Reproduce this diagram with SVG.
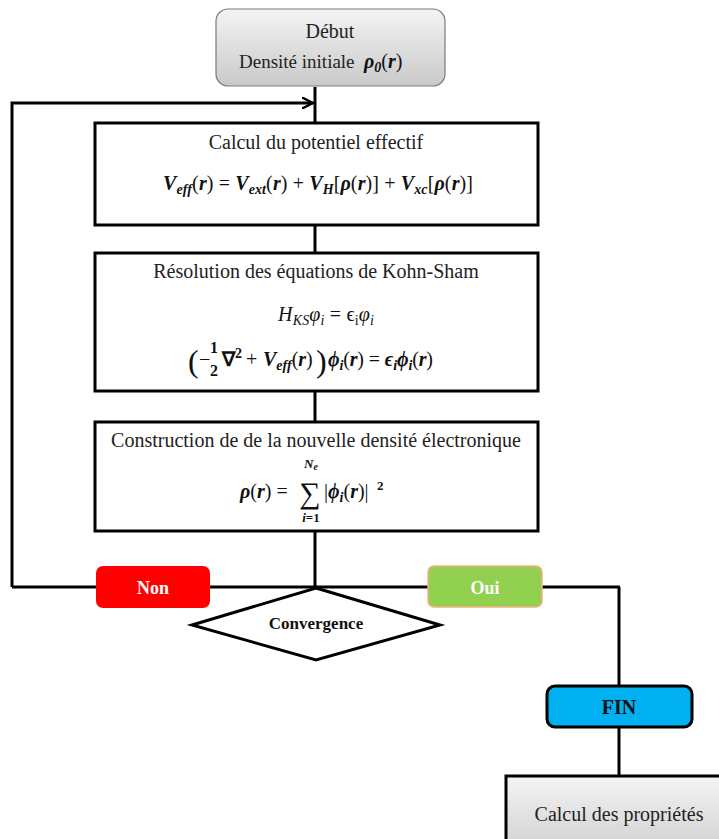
<svg xmlns="http://www.w3.org/2000/svg" width="719" height="839" viewBox="0 0 719 839">
<defs>
<linearGradient id="gray" x1="0" y1="0" x2="0" y2="1">
<stop offset="0" stop-color="#f4f4f4"/>
<stop offset="1" stop-color="#c9c9c9"/>
</linearGradient>
<marker id="arr" viewBox="0 0 12 12" refX="11" refY="6" markerWidth="12" markerHeight="12" markerUnits="userSpaceOnUse" orient="auto">
<path d="M1,1 L11,6 L1,11" fill="none" stroke="#000" stroke-width="2.5" stroke-linecap="round" stroke-linejoin="round"/>
</marker>
<style>
.t{font-family:"Liberation Serif","Times New Roman",serif;font-size:20px;fill:#222;}
.m{font-family:"Liberation Serif","Times New Roman",serif;font-size:20px;font-style:italic;fill:#111;}
.mb{font-family:"Liberation Serif","Times New Roman",serif;font-size:20px;font-style:italic;font-weight:bold;fill:#111;}
.up{font-style:normal;}
.n{font-style:normal;font-weight:normal;}
.s{font-size:14px;}
.box{fill:#fff;stroke:#000;stroke-width:3;}
.ln{fill:none;stroke:#000;stroke-width:3;}
.lab{font-family:"Liberation Serif","Times New Roman",serif;font-size:18px;font-weight:bold;text-anchor:middle;}
</style>
</defs>
<g id="connectors">
<line class="ln" x1="315" y1="87" x2="315" y2="123"/>
<polyline class="ln" points="315,531 315,587"/>
<line class="ln" x1="315" y1="225" x2="315" y2="253"/>
<line class="ln" x1="315" y1="391" x2="315" y2="422"/>
<polyline class="ln" points="12,587 12,103 313,103" marker-end="url(#arr)"/>
<line class="ln" x1="12" y1="587" x2="620" y2="587"/>
<polyline class="ln" points="619,587 619,686"/>
<line class="ln" x1="619" y1="727" x2="619" y2="776"/>
</g>
<g id="start">
<rect x="216" y="9" width="229" height="77" rx="12" fill="url(#gray)" stroke="#7a7a7a" stroke-width="1.2"/>
<text class="t" x="330" y="38" text-anchor="middle">Début</text>
<text class="t" x="239" y="68" style="font-size:19px">Densité initiale</text>
<text class="mb" x="364" y="68">ρ<tspan class="s" dy="4">0</tspan><tspan dy="-4" class="n">(</tspan>r<tspan class="n">)</tspan></text>
</g>
<g id="potential">
<rect class="box" x="95" y="123" width="443" height="102"/>
<text class="t" x="316" y="149" text-anchor="middle">Calcul du potentiel effectif</text>
<text class="mb" x="163" y="190" textLength="310" lengthAdjust="spacing">V<tspan class="s" dy="4">eff</tspan><tspan dy="-4" class="n">(</tspan>r<tspan class="n">) = </tspan>V<tspan class="s" dy="4">ext</tspan><tspan dy="-4" class="n">(</tspan>r<tspan class="n">) + </tspan>V<tspan class="s" dy="4">H</tspan><tspan dy="-4" class="n">[</tspan>ρ<tspan class="n">(</tspan>r<tspan class="n">)] + </tspan>V<tspan class="s" dy="4">xc</tspan><tspan dy="-4" class="n">[</tspan>ρ<tspan class="n">(</tspan>r<tspan class="n">)]</tspan></text>
</g>
<g id="kohnsham">
<rect class="box" x="95" y="253" width="443" height="138"/>
<text class="t" x="316" y="278" text-anchor="middle">Résolution des équations de Kohn-Sham</text>
<text class="m" x="278" y="321" textLength="96" lengthAdjust="spacing">H<tspan class="s" dy="4">KS</tspan><tspan dy="-4">φ</tspan><tspan class="s" dy="4">i</tspan><tspan dy="-4" class="up"> = ϵ</tspan><tspan class="s up" dy="4">i</tspan><tspan dy="-4">φ</tspan><tspan class="s" dy="4">i</tspan></text>
<text class="t" x="188" y="372" style="font-size:32px;fill:#111">(</text>
<text class="t" x="199" y="366" style="fill:#111">−</text>
<text class="mb" x="214" y="353" text-anchor="middle" style="font-size:16px;font-style:normal">1</text>
<text class="mb" x="214" y="376" text-anchor="middle" style="font-size:16px;font-style:normal">2</text>
<text class="mb" x="222" y="366"><tspan class="up">∇</tspan><tspan class="s up" dy="-8">2</tspan></text>
<text class="t" x="246" y="366" style="fill:#111">+</text>
<text class="mb" x="263" y="366">V<tspan class="s" dy="4">eff</tspan><tspan dy="-4" class="n">(</tspan>r<tspan class="n">)</tspan></text>
<text class="t" x="316" y="372" style="font-size:32px;fill:#111">)</text>
<text class="mb" x="328" y="366" textLength="105" lengthAdjust="spacing">ϕ<tspan class="s" dy="4">i</tspan><tspan dy="-4" class="n">(</tspan>r<tspan class="n">) = </tspan>ϵ<tspan class="s" dy="4">i</tspan><tspan dy="-4">ϕ</tspan><tspan class="s" dy="4">i</tspan><tspan dy="-4" class="n">(</tspan>r<tspan class="n">)</tspan></text>
</g>
<g id="density">
<rect class="box" x="95" y="422" width="443" height="109"/>
<text class="t" x="316" y="447" text-anchor="middle">Construction de de la nouvelle densité électronique</text>
<text class="mb" x="240" y="498">ρ<tspan class="n">(</tspan>r<tspan class="n">) =</tspan></text>
<text class="t" x="310" y="503" text-anchor="middle" style="font-size:30px;fill:#111">∑</text>
<text class="mb" x="311" y="468" text-anchor="middle" style="font-size:13px">N<tspan dy="2" style="font-size:10px">e</tspan></text>
<text class="mb" x="311" y="522" text-anchor="middle" style="font-size:13px">i<tspan class="up">=1</tspan></text>
<text class="mb" x="324" y="498"><tspan class="n">|</tspan>ϕ<tspan class="s" dy="4">i</tspan><tspan dy="-4" class="n">(</tspan>r<tspan class="n">)|</tspan></text>
<text class="mb" x="377" y="490" style="font-size:13px;font-style:normal">2</text>
</g>
<g id="non">
<rect x="96" y="566" width="114" height="42" rx="7" fill="#ff0000"/>
<text class="lab" x="153" y="594" fill="#fff">Non</text>
</g>
<g id="oui">
<rect x="428" y="566" width="114" height="41" rx="6" fill="#92d050" stroke="#f4b183" stroke-width="1.5"/>
<text class="lab" x="485" y="594" fill="#fff">Oui</text>
</g>
<g id="convergence">
<polygon points="316,588 440,625 316,660 192,625" fill="#fff" stroke="#000" stroke-width="3" stroke-linejoin="miter"/>
<text class="lab" x="316" y="629" style="font-size:17px" fill="#111">Convergence</text>
</g>
<g id="fin">
<rect x="547" y="686" width="145" height="41" rx="8" fill="#00b0f0" stroke="#000" stroke-width="3"/>
<text class="lab" x="619" y="714" style="font-size:20px" fill="#111">FIN</text>
</g>
<g id="proprietes">
<rect x="506" y="776" width="240" height="90" fill="url(#gray)" stroke="#000" stroke-width="3"/>
<text class="t" x="619" y="821" text-anchor="middle">Calcul des propriétés</text>
</g>
</svg>
